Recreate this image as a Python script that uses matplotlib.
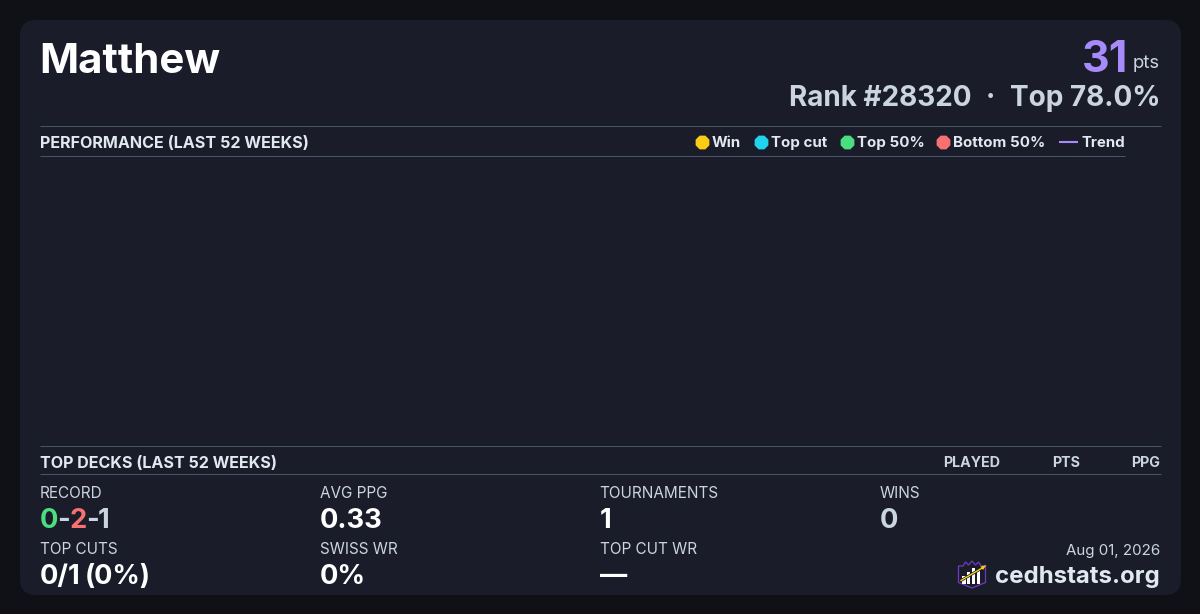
import matplotlib

matplotlib.use("Agg")
import matplotlib.pyplot as plt
from matplotlib.patches import FancyBboxPatch, Polygon, Rectangle

plt.rcParams["font.family"] = ["Inter", "DejaVu Sans"]

# chart text
player_name = "Matthew"
points = "31"
rank_text = "Rank #28320"
top_text = "Top 78.0%"
legend_labels = ["Win", "Top cut", "Top 50%", "Bottom 50%"]
legend_colors = ["#facc15", "#22d3ee", "#4ade80", "#f87171"]
table_columns = ["PLAYED", "PTS", "PPG"]
stat_labels_top = ["RECORD", "AVG PPG", "TOURNAMENTS", "WINS"]
stat_values_top = ["", "0.33", "1", "0"]
stat_labels_bottom = ["TOP CUTS", "SWISS WR", "TOP CUT WR"]
stat_values_bottom = ["0/1", "0%", "—"]
top_cut_pct = "(0%)"
record_parts = ["0", "-", "2", "-", "1"]
record_colors = ["#4ade80", "#cbd5e1", "#f87171", "#cbd5e1", "#cbd5e1"]

BG = "#0f1117"
CARD = "#1a1d29"
RULE = "#475569"
WHITE = "#ffffff"
LIGHT = "#e2e8f0"
MUTED = "#cbd5e1"
PURPLE = "#a78bfa"


def px(size):
    # css pixels to points at dpi 100
    return size * 0.72


fig = plt.figure(figsize=(12, 6.14), dpi=100, facecolor=BG)
ax = fig.add_axes([0, 0, 1, 1])
ax.set_xlim(0, 1200)
ax.set_ylim(614, 0)
ax.axis("off")

ax.add_patch(
    FancyBboxPatch(
        (20, 20), 1161, 575,
        boxstyle="round,pad=0,rounding_size=16",
        facecolor=CARD, edgecolor="none",
    )
)


def label(x, y, s, size, color, weight="normal", ha="left"):
    return ax.text(
        x, y, s, fontsize=px(size), color=color, fontweight=weight,
        ha=ha, va="baseline",
    )


# header
label(39.5, 73, player_name, 42, WHITE, "bold")
label(1128.5, 72, points, 43, PURPLE, "bold", ha="right")
label(1160, 68, "pts", 18.5, MUTED, ha="right")
label(789, 106, rank_text, 27.9, MUTED, "bold")
label(990.5, 106, "·", 27.9, MUTED, "bold", ha="center")
label(1160, 106, top_text, 27.9, MUTED, "bold", ha="right")

# section rules
for y, x_end in [(126, 1160.5), (156, 1125), (446, 1160.5), (474, 1160.5)]:
    ax.plot([40, x_end], [y, y], color=RULE, lw=0.72, solid_capstyle="butt")

label(40, 148, "PERFORMANCE (LAST 52 WEEKS)", 16.12, LIGHT, "bold")
label(40, 468, "TOP DECKS (LAST 52 WEEKS)", 16.1, LIGHT, "bold")

# legend
legend_x = [702, 761, 847, 943]
for x, name, color in zip(legend_x, legend_labels, legend_colors):
    ax.scatter([x], [142], s=115, marker="8", color=color, linewidths=0)
    label(x + 10, 147, name, 15.1, LIGHT, "bold")
ax.plot([1059, 1078], [142, 142], color=PURPLE, lw=1.5, solid_capstyle="butt")
label(1081, 147, "Trend", 15, LIGHT, "bold")

# table header
for x, name in zip([1000, 1080, 1160], table_columns):
    label(x, 467, name, 14.25, MUTED, "bold", ha="right")

# stats grid
col_x = [40, 320, 600, 880]
for x, name in zip(col_x, stat_labels_top):
    label(x - 0.5, 497.5, name, 15.3, MUTED)
for x, val in zip(col_x[1:3], stat_values_top[1:3]):
    label(x, 528, val, 27.3, WHITE, "bold")
label(col_x[3], 528, stat_values_top[3], 27.3, MUTED, "bold")

for x, name in zip(col_x, stat_labels_bottom):
    label(x - 0.5, 553.5, name, 15.3, MUTED)
for x, val in zip(col_x, stat_values_bottom):
    label(x, 584, val, 27.3, WHITE, "bold")
label(84.5, 584, top_cut_pct, 27, WHITE, "bold")

# record is three coloured numbers, so lay them out one after another
fig.canvas.draw()
renderer = fig.canvas.get_renderer()
cursor = 40
for part, color in zip(record_parts, record_colors):
    t = label(cursor, 528, part, 27.3, color, "bold")
    cursor += t.get_window_extent(renderer).width - 0.8

# footer
label(1160, 555, "Aug 01, 2026", 15.1, MUTED, ha="right")
label(1160, 583, "cedhstats.org", 24, LIGHT, "bold", ha="right")

# logo: shield, bars and arrow
shield = [
    (958.5, 566), (963, 566), (965.5, 562), (968.5, 565), (972, 561), (975.5, 565),
    (978.5, 562), (981, 566), (985.5, 566), (985.5, 582.5), (972, 588), (958.5, 582.5),
]
ax.add_patch(Polygon(shield, closed=True, fill=False, edgecolor="#6d3bc4", lw=0.9))
for x, top in zip([962, 966.5, 971.5, 976.5], [576, 572, 567.5, 570]):
    ax.add_patch(Rectangle((x, top), 3.5, 583.5 - top, facecolor=WHITE, edgecolor="none", zorder=3))
ax.plot([961, 983], [580.5, 567.5], color=CARD, lw=2.0, zorder=4)
ax.plot([961, 983], [580.5, 567.5], color="#facc15", lw=1.0, zorder=5)
ax.add_patch(Polygon([(986.5, 565), (980.5, 566.5), (983, 570)], closed=True, facecolor="#facc15", edgecolor="none", zorder=5))

fig.savefig("out.png", dpi=100, facecolor=BG)
